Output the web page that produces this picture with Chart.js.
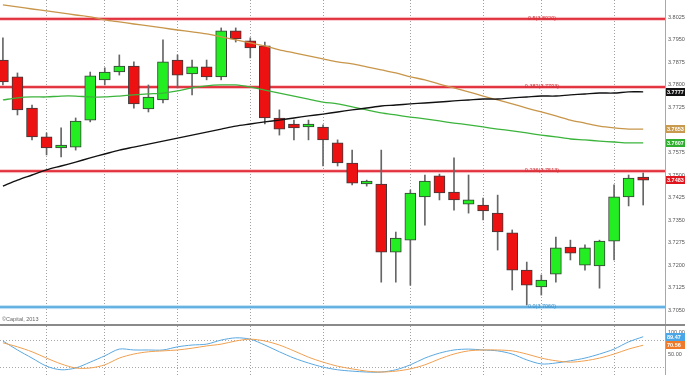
<!DOCTYPE html>
<html>
<head>
<meta charset="utf-8">
<script src="https://cdn.jsdelivr.net/npm/chart.js@4.4.1/dist/chart.umd.min.js"></script>
<style>
  html, body { margin: 0; padding: 0; background: #fff; }
  #wrap { position: relative; width: 685px; height: 375px; overflow: hidden; background: #fff; }
  #main { position: absolute; left: 0; top: 0; }
  #stoch { position: absolute; left: 0; top: 326px; }
</style>
</head>
<body>
<div id="wrap">
  <canvas id="main" width="685" height="326"></canvas>
  <canvas id="stoch" width="685" height="49"></canvas>
</div>
<script>
// daily candles
const openP  = [3.7883, 3.7827, 3.7723, 3.7627, 3.7590, 3.7593, 3.7683, 3.7817, 3.7843, 3.7863,
                3.7720, 3.7750, 3.7883, 3.7837, 3.7860, 3.7827, 3.7980, 3.7947, 3.7930, 3.7690,
                3.7670, 3.7660, 3.7660, 3.7607, 3.7540, 3.7470, 3.7470, 3.7243, 3.7283, 3.7427,
                3.7497, 3.7443, 3.7403, 3.7400, 3.7373, 3.7307, 3.7183, 3.7127, 3.7170, 3.7260,
                3.7200, 3.7197, 3.7280, 3.7427, 3.7493];
const highP  = [3.7957, 3.7840, 3.7733, 3.7640, 3.7657, 3.7690, 3.7843, 3.7857, 3.7900, 3.7877,
                3.7800, 3.7950, 3.7900, 3.7883, 3.7883, 3.7990, 3.7990, 3.7957, 3.7943, 3.7717,
                3.7683, 3.7683, 3.7667, 3.7617, 3.7583, 3.7483, 3.7583, 3.7310, 3.7450, 3.7500,
                3.7503, 3.7557, 3.7500, 3.7423, 3.7433, 3.7317, 3.7210, 3.7167, 3.7293, 3.7283,
                3.7267, 3.7283, 3.7467, 3.7500, 3.7507];
const lowP   = [3.7800, 3.7700, 3.7617, 3.7567, 3.7560, 3.7583, 3.7677, 3.7800, 3.7833, 3.7723,
                3.7710, 3.7740, 3.7790, 3.7767, 3.7817, 3.7817, 3.7943, 3.7890, 3.7670, 3.7633,
                3.7617, 3.7617, 3.7530, 3.7530, 3.7467, 3.7463, 3.7143, 3.7143, 3.7133, 3.7333,
                3.7417, 3.7383, 3.7373, 3.7350, 3.7250, 3.7117, 3.7067, 3.7100, 3.7143, 3.7217,
                3.7183, 3.7123, 3.7217, 3.7397, 3.7400];
const closeP = [3.7810, 3.7717, 3.7627, 3.7590, 3.7600, 3.7680, 3.7830, 3.7843, 3.7863, 3.7737,
                3.7760, 3.7877, 3.7833, 3.7860, 3.7827, 3.7980, 3.7953, 3.7923, 3.7690, 3.7653,
                3.7657, 3.7670, 3.7617, 3.7540, 3.7473, 3.7480, 3.7243, 3.7290, 3.7440, 3.7480,
                3.7440, 3.7417, 3.7417, 3.7380, 3.7310, 3.7183, 3.7133, 3.7150, 3.7257, 3.7240,
                3.7257, 3.7280, 3.7427, 3.7490, 3.7483];

// moving averages
const maSlow = [3.8067, 3.8060, 3.8053, 3.8047, 3.8040, 3.8033, 3.8027, 3.8017, 3.8010, 3.8003,
                3.7997, 3.7990, 3.7983, 3.7977, 3.7970, 3.7960, 3.7950, 3.7940, 3.7930, 3.7917,
                3.7907, 3.7897, 3.7887, 3.7877, 3.7870, 3.7860, 3.7850, 3.7840, 3.7827, 3.7817,
                3.7803, 3.7790, 3.7777, 3.7763, 3.7750, 3.7737, 3.7723, 3.7710, 3.7697, 3.7683,
                3.7673, 3.7663, 3.7657, 3.7653, 3.7653];
const maMid  = [3.7750, 3.7757, 3.7760, 3.7760, 3.7763, 3.7763, 3.7760, 3.7760, 3.7763, 3.7767,
                3.7770, 3.7773, 3.7780, 3.7790, 3.7797, 3.7800, 3.7800, 3.7793, 3.7783, 3.7773,
                3.7763, 3.7753, 3.7743, 3.7737, 3.7727, 3.7717, 3.7707, 3.7700, 3.7693, 3.7687,
                3.7680, 3.7673, 3.7667, 3.7660, 3.7653, 3.7647, 3.7640, 3.7633, 3.7627, 3.7620,
                3.7617, 3.7613, 3.7610, 3.7607, 3.7607];
const maLong = [3.7463, 3.7483, 3.7500, 3.7517, 3.7530, 3.7543, 3.7557, 3.7570, 3.7583, 3.7593,
                3.7603, 3.7613, 3.7623, 3.7633, 3.7643, 3.7653, 3.7663, 3.7670, 3.7677, 3.7683,
                3.7690, 3.7697, 3.7703, 3.7710, 3.7717, 3.7723, 3.7730, 3.7733, 3.7737, 3.7740,
                3.7743, 3.7747, 3.7750, 3.7753, 3.7753, 3.7757, 3.7760, 3.7763, 3.7763, 3.7767,
                3.7770, 3.7773, 3.7773, 3.7777, 3.7777];

// stochastic %K / %D
const stochK = [80, 60, 42, 24, 16, 20, 33, 47, 62, 60, 60, 60, 67, 71, 73, 82, 87, 84, 71, 56,
                42, 31, 22, 16, 13, 11, 11, 16, 27, 42, 53, 60, 62, 60, 58, 51, 38, 29, 31, 36,
                42, 51, 62, 78, 89.47];
const stochD = [76, 67, 56, 42, 29, 20, 20, 27, 42, 51, 56, 58, 60, 64, 69, 73, 80, 84, 80, 71,
                58, 44, 33, 24, 18, 13, 11, 13, 18, 27, 40, 51, 58, 60, 60, 58, 51, 42, 36, 33,
                36, 42, 51, 62, 70.56];

// fibonacci retracement levels
const fibRatios = ['0.5', '0.382', '0.236', '0.0'];
const fibPrices = [3.8020, 3.7793, 3.7513, 3.7060];
const weekLines = [3, 7, 12, 17, 22, 28, 33, 37, 42];
const priceMin = 3.6997, priceMax = 3.8083;

const FONT = '"Liberation Sans", Arial, sans-serif';
const pts = (arr) => arr.map((v, i) => ({ x: i, y: v }));
const noPad = (s) => { s.paddingTop = 0; s.paddingBottom = 0; s.paddingLeft = 0; s.paddingRight = 0; };

function xScale() {
  return {
    type: 'linear', min: -0.2, max: 45.5, offset: false,
    afterBuildTicks: (s) => { s.ticks = weekLines.map((v) => ({ value: v })); },
    afterFit: (s) => { s.height = 0; noPad(s); },
    ticks: { display: false },
    grid: { color: '#a0a0a0', lineWidth: 1, drawTicks: false, offset: false },
    border: { display: false, dash: [1, 2] },
  };
}

function tag(ctx, y, text, bg, fg) {
  ctx.fillStyle = bg;
  ctx.fillRect(666, Math.round(y) - 4, 19, 8);
  ctx.fillStyle = fg;
  ctx.font = 'bold 5.5px ' + FONT;
  ctx.textAlign = 'left';
  ctx.textBaseline = 'middle';
  ctx.fillText(text, 667, y + 0.5);
}

const fibPlugin = {
  id: 'fib',
  beforeDatasetsDraw(chart) {
    const { ctx, chartArea: a, scales: { y } } = chart;
    ctx.save();
    fibPrices.forEach((p, i) => {
      const py = y.getPixelForValue(p);
      const blue = fibRatios[i] === '0.0';
      ctx.fillStyle = blue ? 'rgba(120,190,235,0.45)' : 'rgba(240,120,130,0.4)';
      ctx.fillRect(a.left, py - 2, a.right - a.left, 4);
      ctx.fillStyle = blue ? '#62b0e2' : '#e2323e';
      ctx.fillRect(a.left, py - 1, a.right - a.left, 2);
      ctx.font = '5.5px ' + FONT;
      ctx.textAlign = 'center';
      ctx.textBaseline = 'bottom';
      ctx.fillStyle = blue ? '#3a8ec8' : '#d03038';
      ctx.fillText(fibRatios[i] + '(' + p.toFixed(4) + ')', a.left + (a.right - a.left) * 0.815, py + 2);
    });
    ctx.restore();
  },
  afterDraw(chart) {
    const { ctx, scales: { y } } = chart;
    ctx.save();
    const n = closeP.length - 1;
    tag(ctx, y.getPixelForValue(maLong[n]), maLong[n].toFixed(4), '#111', '#fff');
    tag(ctx, y.getPixelForValue(maSlow[n]), maSlow[n].toFixed(4), '#c89a50', '#fff');
    tag(ctx, y.getPixelForValue(maMid[n]), maMid[n].toFixed(4), '#2fae2f', '#fff');
    tag(ctx, y.getPixelForValue(closeP[n]), closeP[n].toFixed(4), '#e0141c', '#fff');
    ctx.fillStyle = '#8a8a8a';
    ctx.fillRect(0, 324, 685, 2);
    ctx.font = '5.5px ' + FONT;
    ctx.fillStyle = '#666';
    ctx.textAlign = 'left';
    ctx.textBaseline = 'alphabetic';
    ctx.fillText('©Capital, 2013', 2, 321);
    ctx.restore();
  },
};

const stochPlugin = {
  id: 'stochTags',
  afterDraw(chart) {
    const { ctx, scales: { y } } = chart;
    const n = stochK.length - 1;
    ctx.save();
    tag(ctx, y.getPixelForValue(stochK[n]), stochK[n].toFixed(2), '#4aa6e6', '#fff');
    tag(ctx, y.getPixelForValue(stochD[n]), stochD[n].toFixed(2), '#f07a2a', '#fff');
    ctx.restore();
  },
};

const up = (i) => closeP[i] >= openP[i];

new Chart(document.getElementById('main'), {
  type: 'bar',
  data: {
    datasets: [
      { type: 'line', data: pts(maLong), borderColor: '#111', borderWidth: 1.4, pointRadius: 0, tension: 0.3, order: 0 },
      { type: 'line', data: pts(maSlow), borderColor: '#c8964a', borderWidth: 1.3, pointRadius: 0, tension: 0.3, order: 0 },
      { type: 'line', data: pts(maMid), borderColor: '#3cb43c', borderWidth: 1.3, pointRadius: 0, tension: 0.3, order: 0 },
      {
        data: openP.map((o, i) => ({ x: i, y: [o, closeP[i]] })),
        backgroundColor: openP.map((_, i) => up(i) ? '#22ee22' : '#ee1111'),
        borderColor: '#3a3a3a', borderWidth: 1, borderSkipped: false,
        barThickness: 11, grouped: false, minBarLength: 2, order: 1,
      },
      {
        data: lowP.map((l, i) => ({ x: i, y: [l, highP[i]] })),
        backgroundColor: '#666', barThickness: 1, grouped: false, order: 2,
      },
    ],
  },
  options: {
    responsive: false, animation: false, devicePixelRatio: 1,
    layout: { padding: 0 },
    plugins: { legend: { display: false }, tooltip: { enabled: false } },
    scales: {
      x: xScale(),
      y: {
        position: 'right', min: priceMin, max: priceMax,
        afterFit: (s) => { s.width = 20; noPad(s); },
        ticks: {
          stepSize: 0.0075, includeBounds: false, padding: 3, color: '#555',
          font: { family: FONT, size: 5.5 },
          callback: (v) => v.toFixed(4),
        },
        grid: { display: false, drawTicks: false, tickLength: 0 },
        border: { display: true, color: '#a8a8a8' },
      },
    },
  },
  plugins: [fibPlugin],
});

new Chart(document.getElementById('stoch'), {
  type: 'line',
  data: {
    datasets: [
      { data: pts(stochD), borderColor: '#f0a050', borderWidth: 1, pointRadius: 0, tension: 0.3 },
      { data: pts(stochK), borderColor: '#5aa8e0', borderWidth: 1, pointRadius: 0, tension: 0.3 },
    ],
  },
  options: {
    responsive: false, animation: false, devicePixelRatio: 1,
    layout: { padding: 0 },
    plugins: { legend: { display: false }, tooltip: { enabled: false } },
    scales: {
      x: xScale(),
      y: {
        position: 'right', min: 4.4, max: 113.3,
        afterBuildTicks: (s) => { s.ticks = [20, 50, 80, 100].map((v) => ({ value: v })); },
        afterFit: (s) => { s.width = 20; noPad(s); },
        ticks: {
          padding: 3, color: '#555', font: { family: FONT, size: 5.5 },
          callback: (v) => (v === 50 || v === 100) ? v.toFixed(2) : '',
        },
        grid: {
          drawTicks: false, tickLength: 0,
          color: (c) => (c.tick && (c.tick.value === 20 || c.tick.value === 80)) ? '#a8a8a8' : 'rgba(0,0,0,0)',
        },
        border: { display: true, color: '#a8a8a8', dash: [1, 2] },
      },
    },
  },
  plugins: [stochPlugin],
});
</script>
</body>
</html>
